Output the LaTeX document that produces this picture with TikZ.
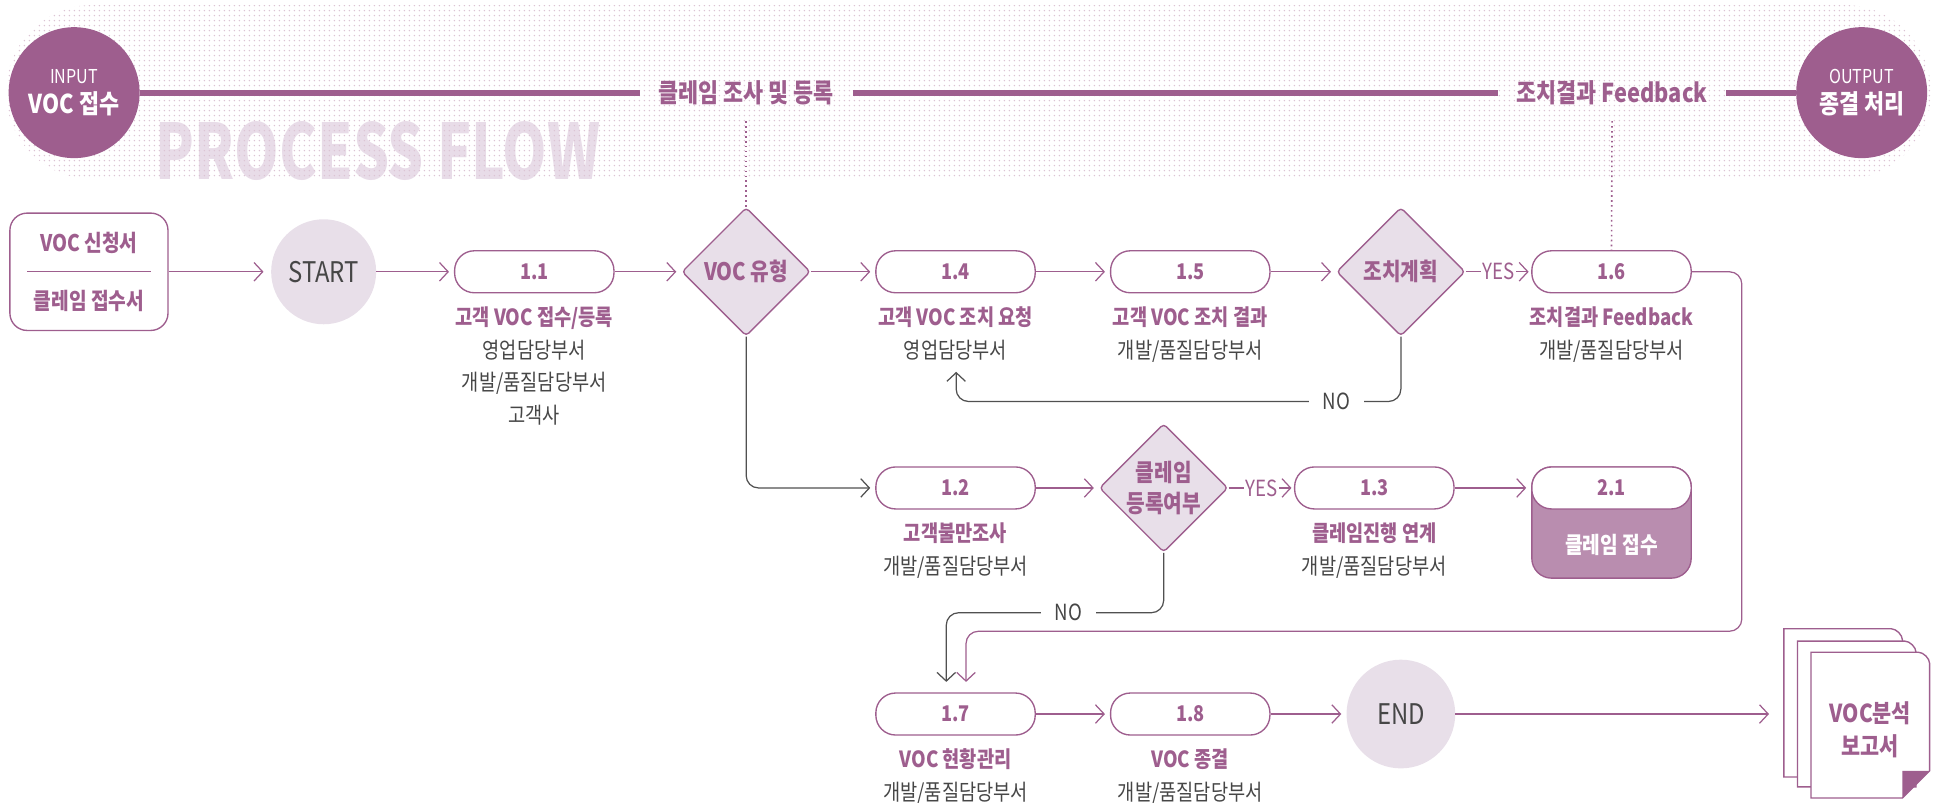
\documentclass[tikz,border=0pt]{standalone}
\usepackage{fontspec}
\setmainfont[FakeStretch=0.84]{Noto Sans CJK KR}
\newfontfamily\pffont[FakeStretch=0.74]{Noto Sans CJK KR}
\usetikzlibrary{arrows.meta,shapes.geometric,patterns.meta}
\definecolor{purp}{RGB}{158,94,142}
\definecolor{lpink}{RGB}{232,223,233}
\definecolor{mpink}{RGB}{185,141,175}
\definecolor{txtgray}{RGB}{70,70,70}
\definecolor{lngray}{RGB}{80,80,80}
\definecolor{dotc}{RGB}{220,196,212}
\definecolor{pfc}{RGB}{232,220,232}
\tikzset{
  stepbox/.style={draw=purp, line width=1.1pt, fill=white, rounded corners=16pt, minimum width=129pt, minimum height=34pt, inner sep=0pt, text=purp, font=\bfseries\fontsize{17.5}{17.5}\selectfont},
  decision/.style={diamond, aspect=1, draw=purp, line width=1.1pt, fill=lpink, minimum width=104pt, minimum height=104pt, inner sep=0pt, rounded corners=3pt, text=purp, align=center, font=\bfseries\fontsize{19.5}{25}\selectfont},
  term/.style={circle, fill=lpink, inner sep=0pt, text=txtgray, font=\fontsize{23}{23}\selectfont},
  desc/.style={anchor=north, inner sep=0pt, align=center, text=txtgray, font=\fontsize{18}{26.5}\selectfont},
  conn/.style={draw=purp, line width=1pt, -{Straight Barb[length=7pt,width=15pt,line width=1pt]}, shorten >=4pt},
  gconn/.style={conn, draw=lngray},
  bandline/.style={draw=purp, line width=5pt},
  bandlbl/.style={inner xsep=15pt, inner ysep=2pt, text=purp, font=\bfseries\fontsize{21}{21}\selectfont},
  ionode/.style={circle, fill=purp, minimum size=106pt, inner sep=0pt, text=white, align=center, font=\fontsize{15.5}{24}\selectfont},
  yn/.style={fill=white, inner xsep=1pt, inner ysep=1pt, font=\fontsize{18}{18}\selectfont},
  dotconn/.style={draw=purp, line width=1.3pt, dash pattern=on 1.3pt off 2.7pt},
  page/.style={draw=purp, line width=1.1pt, fill=white},
}
\begin{document}
\begin{tikzpicture}[x=1pt,y=-1pt]
\useasboundingbox (0,0) rectangle (1568,650);
% dotted band
\node[anchor=west, inner sep=0pt, text=pfc, font=\pffont\bfseries\fontsize{62}{62}\selectfont] (pf) at (126,122) {PROCESS FLOW};
\path[rounded corners=70pt, pattern={Dots[distance=4pt, radius=0.65pt]}, pattern color=dotc] (5,4) rectangle (1563,145);
% band
\node[ionode] (inp) at (60,75) {INPUT\\{\bfseries\fontsize{21}{21}\selectfont VOC 접수}};
\node[ionode] (outp) at (1507,75) {OUTPUT\\{\bfseries\fontsize{21}{21}\selectfont 종결 처리}};
\node[bandlbl] (t1) at (604,75) {클레임 조사 및 등록};
\node[bandlbl] (t2) at (1305,75) {조치결과 Feedback};
\draw[bandline] (inp) -- (t1);
\draw[bandline] (t1) -- (t2);
\draw[bandline] (t2) -- (outp);
% input document box
\node[draw=purp, line width=1.1pt, rounded corners=14pt, minimum width=128pt, minimum height=95pt] (inbox) at (72,220) {};
\node[text=purp, font=\bfseries\fontsize{18.5}{18.5}\selectfont] (in1) at (72,197) {VOC 신청서};
\node[text=purp, font=\bfseries\fontsize{18.5}{18.5}\selectfont] (in2) at (72,244) {클레임 접수서};
\draw[purp, line width=1pt] (22,220) -- (122,220);
% row 1
\node[term, minimum size=85pt] (start) at (262,220) {START};
\node[stepbox] (b11) at (432.5,220) {1.1};
\node[decision] (d1) at (604,220) {VOC 유형};
\node[stepbox] (b14) at (773.5,220) {1.4};
\node[stepbox] (b15) at (963.5,220) {1.5};
\node[decision] (d2) at (1134,220) {조치계획};
\node[stepbox] (b16) at (1304.5,220) {1.6};
\node[desc] (l11) at (432.5,248) {\textcolor{purp}{\bfseries 고객 VOC 접수/등록}\\영업담당부서\\개발/품질담당부서\\고객사};
\node[desc] (l14) at (773.5,248) {\textcolor{purp}{\bfseries 고객 VOC 조치 요청}\\영업담당부서};
\node[desc] (l15) at (963.5,248) {\textcolor{purp}{\bfseries 고객 VOC 조치 결과}\\개발/품질담당부서};
\node[desc] (l16) at (1304.5,248) {\textcolor{purp}{\bfseries 조치결과 Feedback}\\개발/품질담당부서};
% row 2
\node[stepbox] (b12) at (773.5,395) {1.2};
\node[decision] (d3) at (942,395) {클레임\\등록여부};
\node[stepbox] (b13) at (1112.5,395) {1.3};
\node[draw=purp, line width=1.1pt, fill=mpink, rounded corners=16pt, minimum width=129pt, minimum height=90pt] (b21box) at (1304.5,423) {};
\node[stepbox] (b21) at (1304.5,395) {2.1};
\node[text=white, font=\bfseries\fontsize{18.5}{18.5}\selectfont] (b21t) at (1304.5,441) {클레임 접수};
\node[desc] (l12) at (773.5,423) {\textcolor{purp}{\bfseries 고객불만조사}\\개발/품질담당부서};
\node[desc] (l13) at (1112.5,423) {\textcolor{purp}{\bfseries 클레임진행 연계}\\개발/품질담당부서};
% row 3
\node[stepbox] (b17) at (773.5,578) {1.7};
\node[stepbox] (b18) at (963.5,578) {1.8};
\node[term, minimum size=88pt] (end) at (1134,578) {END};
\node[desc] (l17) at (773.5,606) {\textcolor{purp}{\bfseries VOC 현황관리}\\개발/품질담당부서};
\node[desc] (l18) at (963.5,606) {\textcolor{purp}{\bfseries VOC 종결}\\개발/품질담당부서};
% report pages
\path[page] (1444,629) -- (1444,509) -- (1531,509) .. controls (1535,509) and (1540,514) .. (1540,518) -- (1540,629) -- cycle;
\path[page] (1455,637) -- (1455,519) -- (1542,519) .. controls (1546,519) and (1551,524) .. (1551,528) -- (1551,637) -- cycle;
\path[page] (1466,646) -- (1466,528) -- (1553,528) .. controls (1557,528) and (1562,533) .. (1562,537) -- (1562,624) -- (1540,646) -- cycle;
\path[fill=purp] (1540,624) -- (1562,624) -- (1540,646) -- cycle;
\node[text=purp, align=center, font=\bfseries\fontsize{20}{27}\selectfont] (doc) at (1514,591) {VOC분석\\보고서};
\coordinate (docin) at (1432,578);
% dotted links
\draw[dotconn, shorten <=11pt] (t1.south) -- (d1.north);
\draw[dotconn, shorten <=11pt] (t2.south) -- (b16.north);
% connectors row 1
\draw[conn, shorten >=6pt] (inbox) -- (start);
\draw[conn] (start) -- (b11);
\draw[conn] (b11) -- (d1);
\draw[conn] (d1) -- (b14);
\draw[conn] (b14) -- (b15);
\draw[conn] (b15) -- (d2);
\draw[conn, shorten >=2pt] (d2) -- node[yn, text=purp] (yes1) {YES} (b16);
% NO loop back to 1.4
\coordinate (no1) at (1082,325);
\coordinate (up14) at (774,301);
\draw[gconn, rounded corners=10pt, shorten >=0pt] (d2.south) |- (up14 |- no1) -- (up14);
\node[yn, inner xsep=11pt, text=txtgray] (nol1) at (no1) {NO};
% row 2 connectors
\draw[gconn, rounded corners=10pt] (d1.south) |- (b12.west);
\draw[conn] (b12) -- (d3);
\draw[conn, shorten >=2pt] (d3) -- node[yn, text=purp] (yes2) {YES} (b13);
\draw[conn] (b13) -- (b21);
% NO to 1.7
\coordinate (no2) at (865,496);
\coordinate (in17a) at (766,552);
\draw[gconn, rounded corners=10pt, shorten >=0pt] (d3.south) |- (in17a |- no2) -- (in17a);
\node[yn, inner xsep=11pt, text=txtgray] (nol2) at (no2) {NO};
% 1.6 to 1.7
\coordinate (rt) at (1410,511);
\coordinate (in17b) at (782,552);
\draw[conn, rounded corners=10pt, shorten >=0pt] (b16.east) -| (rt) -| (in17b);
% row 3 connectors
\draw[conn] (b17) -- (b18);
\draw[conn] (b18) -- (end);
\draw[conn, shorten >=0pt] (end) -- (docin);
\end{tikzpicture}
\end{document}
